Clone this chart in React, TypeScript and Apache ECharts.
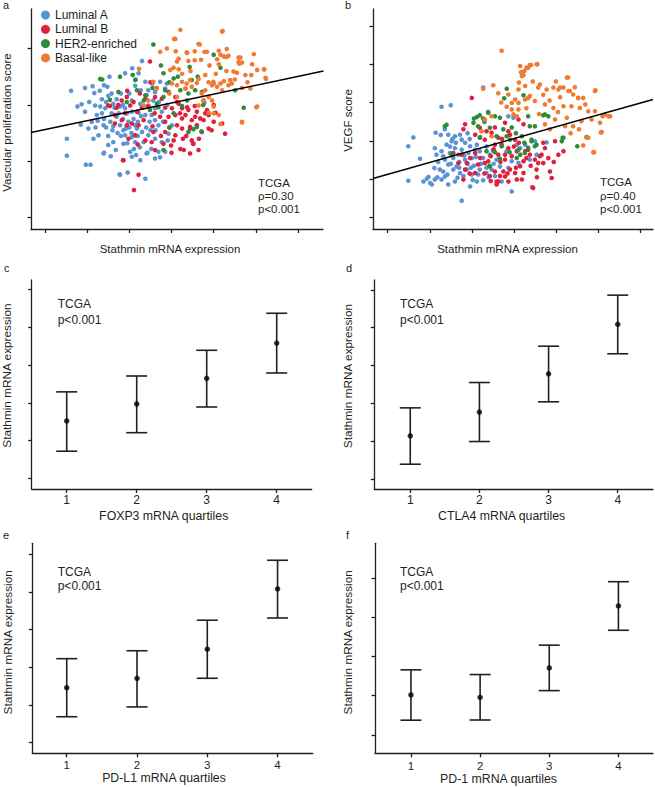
import React, { useEffect, useRef } from 'react';
import * as echarts from 'echarts';

const INK = '#231f20';
const FONT = 'Liberation Sans, Arial, sans-serif';

const GROUPS = ['Luminal A', 'Luminal B', 'HER2-enriched', 'Basal-like'];
const GROUP_COLORS = ['#5b93d3', '#e0203c', '#2e8b3a', '#f07a30'];

// ---- Panel a: Stathmin vs Vascular proliferation score ----
const aLumA = [[1.62,3.25],[1.77,2.97],[1.52,2.40],[1.52,2.10],[1.97,1.94],[2.08,1.94],[2.40,2.15],[2.78,1.76],[2.96,1.80],[3.38,1.69],[3.11,2.22],[3.02,2.17],[2.86,2.31],[2.50,2.29],[2.62,2.34],[2.03,2.58],[2.11,2.70],[2.23,2.82],[2.31,2.97],[2.13,3.33],[2.17,3.21],[2.35,3.10],[2.50,3.16],[2.48,3.32],[2.53,3.50],[2.90,3.56],[3.07,3.65],[3.30,3.78],[3.22,3.56],[3.38,3.41],[3.14,3.34],[3.27,3.26],[3.45,3.26],[3.61,3.23],[3.73,3.41],[3.85,3.29],[2.62,3.02],[2.78,2.97],[2.90,2.94],[3.06,2.88],[3.22,2.86],[3.38,2.82],[3.53,2.82],[3.61,2.73],[2.98,2.70],[3.14,2.64],[3.30,2.52],[3.45,2.46],[3.61,2.40],[3.69,2.64],[2.43,2.94],[2.58,2.85],[2.70,2.79],[2.78,2.64],[2.86,2.55],[2.27,2.46],[2.39,2.64],[1.95,2.88],[1.87,3.01],[2.19,2.99],[3.06,3.08],[3.26,3.02],[3.45,2.99],[3.61,2.94],[3.77,2.88],[3.41,3.17],[3.57,3.08],[3.06,2.43],[2.90,2.46],[3.14,2.34],[3.34,2.34],[3.06,2.08],[3.61,2.05],[3.77,2.34],[3.69,2.17],[3.41,2.14],[3.26,2.02],[3.85,2.17],[3.89,3.38],[3.93,2.49],[3.91,2.37],[4.01,2.64],[4.78,3.04],[2.40,2.75],[2.55,2.70],[2.65,2.95],[2.75,2.85],[2.85,2.75],[2.95,2.85],[3.00,2.60],[3.10,2.75],[3.20,2.70],[2.45,3.05],[2.70,3.10],[2.85,3.00],[3.30,2.95],[3.00,3.20],[2.60,2.55],[2.50,2.45],[2.80,2.45],[3.20,2.45],[3.40,2.60],[3.50,2.55],[2.35,2.85],[2.20,2.60],[2.05,3.05],[1.95,3.30],[2.30,3.25],[3.55,3.38],[3.70,3.05],[3.80,2.70],[3.90,3.00],[2.77,1.77],[2.39,2.14],[2.56,2.09],[3.16,2.11],[3.43,2.15],[3.73,2.07],[2.45,2.60],[2.62,2.62],[2.72,2.50],[2.92,2.58],[3.05,2.50],[3.18,2.58],[3.28,2.80],[3.48,2.70],[3.62,2.55],[2.80,3.20],[2.58,3.20],[2.40,3.35],[3.15,3.45],[2.25,2.72],[2.15,2.40],[3.52,2.22],[2.95,2.32],[3.25,2.25],[2.68,2.20],[1.85,2.65]];
const aLumB = [[3.49,3.77],[2.50,2.99],[2.82,3.08],[2.94,3.14],[3.02,2.99],[3.18,2.88],[3.38,3.11],[3.45,2.97],[3.61,3.14],[3.77,3.11],[3.06,2.67],[3.22,2.64],[3.34,2.73],[2.66,2.67],[2.82,2.73],[2.94,2.64],[3.14,2.46],[3.38,2.37],[3.53,2.34],[2.98,2.40],[2.86,2.02],[3.22,1.76],[3.11,1.49],[3.61,2.20],[3.81,2.31],[2.66,2.82],[2.54,2.98],[3.85,2.52],[3.57,2.52],[3.73,2.79],[3.85,2.70],[3.93,3.23],[4.09,3.14],[4.17,3.02],[4.01,2.94],[4.25,2.94],[4.40,2.91],[4.60,2.88],[4.33,2.82],[4.09,2.82],[4.48,2.73],[4.68,2.76],[4.80,2.85],[4.88,2.82],[5.00,2.70],[5.04,2.86],[4.60,2.64],[4.44,2.58],[4.25,2.58],[4.72,2.52],[4.88,2.58],[5.20,2.67],[5.27,2.49],[4.52,2.31],[4.48,2.37],[4.21,2.22],[4.29,2.20],[4.44,2.14],[4.64,2.20],[4.09,2.46],[4.13,2.64],[4.51,2.31],[4.27,2.40],[4.05,2.37],[3.99,2.28],[2.85,2.02],[4.84,2.91],[5.00,3.00],[4.76,3.08],[4.56,2.79],[4.37,2.96],[4.13,3.05],[3.93,2.79],[4.76,2.73],[4.44,2.61],[4.25,2.76],[2.74,3.00],[2.95,3.25],[3.10,3.05],[2.70,2.95],[3.25,3.20],[3.50,3.40],[3.65,3.30],[3.30,2.95],[3.55,2.62],[3.75,2.45],[3.95,2.60],[4.20,2.85],[4.55,2.98],[4.35,2.45],[4.65,2.40],[3.85,2.95],[3.60,2.85],[2.90,2.85],[3.20,2.30],[4.00,2.15],[4.95,2.55]];
const aHER2 = [[3.57,4.07],[5.00,3.89],[5.16,3.66],[4.43,3.67],[2.31,3.46],[2.36,3.45],[3.14,3.44],[3.08,3.53],[5.71,2.95],[5.51,3.26],[3.81,2.20],[4.71,2.53],[4.52,2.57],[2.54,3.09],[3.18,3.26],[3.38,3.17],[3.81,3.56],[4.05,3.47],[4.48,3.44],[4.56,3.26],[4.25,2.98],[4.05,2.85],[3.81,3.14],[3.85,3.26],[3.65,3.02],[3.49,2.91],[4.37,3.08],[4.72,3.23],[4.21,3.26],[4.60,2.61],[4.40,2.52],[3.69,2.96],[3.34,3.08],[2.94,3.05],[2.74,3.23],[2.78,3.50],[4.62,3.50],[3.95,2.60],[3.95,3.40],[4.15,3.50],[4.40,3.20],[3.55,3.30],[3.75,3.70],[4.75,3.00]];
const aBasal = [[4.21,4.33],[5.21,4.31],[4.09,4.17],[4.64,4.08],[4.36,3.93],[4.78,3.94],[3.89,4.00],[5.31,3.99],[5.16,3.89],[5.30,3.85],[5.35,3.87],[5.08,3.81],[5.63,3.84],[5.67,3.75],[5.59,3.76],[5.12,3.72],[4.17,3.82],[4.13,3.77],[4.40,3.78],[4.55,3.79],[4.05,3.66],[3.97,3.62],[4.17,3.63],[5.47,3.59],[5.55,3.57],[5.75,3.53],[5.89,3.53],[6.03,3.62],[6.20,3.63],[5.91,3.72],[6.23,3.48],[4.80,3.53],[4.64,3.46],[4.60,3.39],[4.88,3.40],[4.96,3.35],[5.08,3.32],[5.16,3.38],[5.35,3.35],[5.43,3.38],[4.99,3.41],[5.24,3.42],[5.67,3.30],[5.87,3.29],[5.67,2.70],[6.03,2.97],[4.25,3.41],[4.36,3.38],[4.44,3.44],[4.33,3.29],[4.48,3.32],[4.01,3.38],[4.13,3.35],[4.72,3.20],[4.76,3.08],[4.88,3.14],[4.96,3.08],[4.80,3.26],[5.00,2.97],[4.88,2.86],[4.64,2.99],[5.20,4.30],[4.06,4.17],[4.67,4.07],[3.73,3.94],[3.23,3.64],[5.12,2.82],[5.16,2.66],[5.67,2.69],[6.01,2.96],[6.24,3.46],[6.19,3.63],[5.61,3.73],[5.59,3.84],[5.24,3.86],[5.12,3.96],[4.84,3.94],[4.37,3.92],[3.34,2.99],[3.45,3.08],[3.57,3.41],[3.65,3.29],[4.13,3.14],[4.33,3.29],[5.00,3.38],[5.39,3.44],[5.20,3.26],[5.00,2.85],[4.45,3.60],[4.55,3.95],[4.90,3.70],[5.30,3.60],[5.50,3.45],[5.05,3.55],[4.25,3.55],[4.70,3.80],[5.80,3.40],[4.10,3.95],[5.95,3.90],[3.95,3.20]];
const aFit = [[0.67,2.51],[7.6,3.60]];

// ---- Panel b: Stathmin vs VEGF score ----
const bLumA = [[1.49,2.86],[1.61,3.09],[1.49,1.96],[1.77,2.53],[1.93,2.01],[1.97,2.06],[2.01,1.90],[2.12,1.99],[2.11,2.29],[2.12,2.81],[2.16,2.64],[2.28,3.89],[2.50,3.93],[2.14,3.21],[2.26,3.15],[2.36,3.30],[2.44,3.16],[2.52,2.99],[2.60,3.12],[2.72,3.16],[2.76,3.03],[2.84,2.95],[2.40,2.90],[2.28,2.73],[2.36,2.51],[2.48,2.68],[2.60,2.81],[2.56,2.55],[2.68,2.64],[2.76,2.77],[2.84,2.51],[2.92,2.68],[3.00,2.55],[3.08,2.77],[3.12,2.90],[3.19,2.73],[3.27,2.55],[2.96,2.86],[2.24,2.25],[2.32,2.20],[2.44,2.38],[2.56,2.25],[2.64,2.33],[2.72,2.16],[2.80,2.08],[2.88,2.25],[3.00,2.12],[3.12,1.94],[2.96,1.81],[2.76,1.44],[3.27,1.97],[3.35,2.16],[3.47,2.25],[3.55,2.08],[3.67,2.33],[3.59,2.51],[3.43,2.64],[3.27,4.39],[2.36,2.07],[2.28,1.99],[1.85,1.94],[2.05,1.86],[2.44,1.86],[2.60,1.94],[3.19,2.25],[3.71,1.94],[3.83,2.73],[3.95,1.68],[3.87,3.64],[3.99,3.60],[4.07,2.90],[4.15,2.81],[4.27,2.90],[4.38,2.51],[4.54,2.64],[4.78,2.96],[4.50,2.99],[3.95,2.47],[3.87,2.29],[4.11,2.42],[2.90,2.40],[3.05,2.35],[2.70,2.45],[2.50,2.40],[3.35,2.85],[3.50,2.75],[2.95,3.05],[2.20,2.45],[2.32,2.60],[2.48,2.85],[2.62,2.95],[2.70,2.30],[2.82,2.62],[2.98,2.30],[3.10,2.58],[3.22,2.40],[3.35,2.30],[3.40,2.05],[3.52,2.40],[2.18,2.05],[2.42,2.12],[2.66,2.04],[3.02,1.98],[3.15,2.12],[2.54,3.05],[2.90,3.20],[3.20,3.10]];
const bLumB = [[3.00,4.12],[2.84,3.43],[2.80,3.30],[3.08,3.16],[3.19,3.34],[3.35,3.25],[3.47,3.21],[3.31,3.03],[3.55,2.90],[3.63,3.08],[3.71,2.90],[3.79,2.64],[3.87,3.25],[2.76,2.64],[2.88,2.42],[2.96,2.55],[3.08,2.68],[2.56,2.68],[2.68,2.42],[2.84,2.25],[3.15,2.38],[3.31,2.42],[3.39,2.47],[3.43,2.08],[3.55,2.20],[3.59,1.94],[3.59,1.86],[3.67,2.08],[3.75,2.20],[3.08,2.16],[2.80,1.99],[3.79,2.51],[3.63,2.64],[3.79,3.47],[4.11,3.56],[4.23,3.43],[3.91,3.16],[4.03,3.03],[3.87,2.81],[4.07,2.73],[4.27,2.73],[4.34,2.77],[4.38,2.64],[4.50,2.51],[4.58,2.42],[4.70,2.42],[4.82,2.55],[4.98,2.99],[5.06,2.64],[5.18,2.73],[4.74,2.81],[4.66,2.64],[4.23,2.47],[4.15,2.34],[3.91,2.25],[4.03,2.16],[4.23,2.16],[4.19,1.99],[4.46,1.77],[4.54,2.25],[4.86,2.20],[4.90,2.03],[3.79,2.07],[3.87,1.94],[4.44,1.79],[3.63,1.94],[4.07,1.99],[3.20,2.55],[3.45,2.60],[3.52,2.78],[3.68,2.45],[3.72,3.05],[3.95,2.60],[4.00,2.85],[4.12,2.95],[4.30,2.55],[4.40,2.35],[4.55,2.05],[4.62,2.60],[3.30,2.15],[3.45,1.95],[3.85,2.15],[4.05,2.30],[3.55,3.35],[2.95,2.15],[4.70,2.95],[4.95,2.45]];
const bHER2 = [[2.36,3.38],[2.40,3.42],[3.12,3.62],[3.04,3.47],[3.27,3.58],[3.39,3.73],[3.19,3.08],[3.55,3.64],[3.67,3.60],[3.15,3.38],[3.43,3.34],[3.59,3.12],[2.52,2.64],[3.43,2.33],[3.35,2.73],[3.83,4.36],[4.23,4.19],[3.77,4.11],[3.39,3.75],[3.19,3.67],[3.05,3.58],[4.70,3.67],[5.73,3.10],[5.51,2.86],[5.16,3.08],[5.14,2.99],[3.83,3.12],[3.91,3.03],[4.19,3.12],[4.42,3.03],[4.50,2.86],[4.34,2.82],[4.26,2.68],[4.11,2.77],[3.71,2.86],[3.55,2.70],[3.42,2.35],[3.67,2.53],[4.74,3.69],[4.82,3.64],[4.34,3.64],[4.38,3.38],[4.50,3.38],[5.18,3.08],[4.07,2.55],[4.15,2.64],[4.42,2.99],[4.54,2.90],[3.30,3.50],[3.75,3.30],[3.95,3.35],[4.05,3.20],[3.90,2.70],[4.25,2.95]];
const bBasal = [[4.15,4.95],[4.34,4.91],[4.41,4.98],[4.56,5.00],[4.17,4.79],[4.23,4.71],[4.12,4.52],[4.27,4.43],[4.11,4.34],[4.03,4.08],[4.11,3.99],[4.27,4.08],[4.38,4.17],[4.50,4.04],[4.62,4.47],[4.78,4.34],[4.94,4.39],[5.06,4.34],[5.18,4.39],[5.26,4.65],[5.30,4.30],[5.10,4.14],[5.41,4.21],[5.53,4.12],[5.65,4.12],[5.93,4.30],[4.74,3.95],[4.94,3.86],[5.18,3.90],[5.37,3.90],[5.57,3.86],[5.77,3.77],[5.93,3.77],[6.17,3.69],[6.25,3.64],[6.05,3.47],[5.85,3.56],[5.61,3.51],[5.26,3.60],[4.98,3.56],[4.74,3.43],[4.86,3.30],[5.22,3.38],[5.41,3.38],[5.73,3.09],[5.89,2.70],[6.09,3.23],[3.95,3.82],[3.87,4.21],[4.07,3.64],[3.71,5.35],[4.38,4.98],[4.30,4.91],[4.25,4.82],[4.54,5.00],[4.19,4.69],[4.58,4.39],[5.29,4.65],[5.10,4.39],[5.33,4.30],[5.53,4.12],[5.94,4.32],[6.11,3.64],[6.29,3.64],[6.07,3.22],[5.91,2.70],[5.65,2.88],[5.77,3.08],[3.51,4.45],[3.63,4.24],[3.27,4.36],[3.99,3.69],[4.11,3.82],[3.95,3.99],[4.34,4.12],[3.83,3.89],[3.47,3.64],[3.31,3.56],[3.47,3.12],[3.23,3.25],[4.45,4.55],[4.70,4.20],[4.85,4.05],[5.00,4.55],[5.45,4.40],[5.70,3.95],[5.05,3.75],[4.60,3.70],[4.30,3.85],[3.70,4.00],[5.35,3.20],[5.55,3.30]];
const bFit = [[0.65,2.02],[7.31,4.08]];

// ---- Panels c-f: Stathmin by immune-gene quartile (mean with error bars) ----
const QUARTILES = [1, 2, 3, 4];
const cMean = [2.52, 2.97, 3.65, 4.58];
const cLow = [1.72, 2.21, 2.89, 3.79];
const cHigh = [3.29, 3.71, 4.39, 5.37];
const dMean = [2.14, 2.77, 3.78, 5.09];
const dLow = [1.39, 1.99, 3.04, 4.31];
const dHigh = [2.88, 3.55, 4.51, 5.86];
const eMean = [2.46, 2.71, 3.48, 5.08];
const eLow = [1.69, 1.95, 2.71, 4.31];
const eHigh = [3.23, 3.44, 4.25, 5.84];
const fMean = [2.02, 1.96, 2.71, 4.29];
const fLow = [1.375, 1.38, 2.13, 3.67];
const fHigh = [2.66, 2.54, 3.29, 4.91];

const SCATTER_X_TICKS = [1, 2, 3, 4, 5, 6, 7];

const lineStyle = { color: INK, width: 1.3 };
const nameStyle = (pad: number[], size: number) => ({ fontSize: size, color: INK, fontFamily: FONT, padding: pad });

function xAxis(gi: number, min: number, max: number, ticks: number[], showLabels: boolean, name: string, nameGap: number, pad: number[], margin: number, nameSize: number, labelSize: number) {
  return {
    type: 'value', gridIndex: gi, min, max,
    axisLine: { show: true, onZero: false, lineStyle },
    axisTick: { show: true, length: 4, customValues: ticks, lineStyle },
    axisLabel: { show: showLabels, customValues: ticks, margin, fontSize: labelSize, color: INK, fontFamily: FONT },
    splitLine: { show: false },
    name, nameLocation: 'middle', nameGap, nameTextStyle: nameStyle(pad, nameSize), nameMoveOverlap: false,
  };
}
function yAxis(gi: number, min: number, max: number, ticks: number[], name: string, nameGap: number, pad: number[], nameSize: number) {
  return {
    type: 'value', gridIndex: gi, min, max,
    axisLine: { show: true, onZero: false, lineStyle },
    axisTick: { show: true, length: 3.5, customValues: ticks, lineStyle },
    axisLabel: { show: false },
    splitLine: { show: false },
    name, nameLocation: 'middle', nameGap, nameRotate: 90, nameTextStyle: nameStyle(pad, nameSize), nameMoveOverlap: false,
  };
}

const errorBarRender = (params: any, api: any) => {
  const x = api.value(0);
  const lo = api.coord([x, api.value(1)]);
  const hi = api.coord([x, api.value(2)]);
  const hw = 10.5;
  const style = { stroke: INK, lineWidth: 1.6 };
  return {
    type: 'group',
    children: [
      { type: 'line', shape: { x1: lo[0], y1: lo[1], x2: hi[0], y2: hi[1] }, style },
      { type: 'line', shape: { x1: lo[0] - hw, y1: lo[1], x2: lo[0] + hw, y2: lo[1] }, style },
      { type: 'line', shape: { x1: hi[0] - hw, y1: hi[1], x2: hi[0] + hw, y2: hi[1] }, style },
    ],
  };
};

function errorSeries(idx: number, mean: number[], low: number[], high: number[]) {
  return [
    {
      type: 'custom', xAxisIndex: idx, yAxisIndex: idx,
      data: QUARTILES.map((q, i) => [q, low[i], high[i]]),
      encode: { x: 0, y: [1, 2] },
      renderItem: errorBarRender, silent: true,
    },
    {
      type: 'scatter', xAxisIndex: idx, yAxisIndex: idx,
      data: QUARTILES.map((q, i) => [q, mean[i]]),
      symbolSize: 5.5, itemStyle: { color: '#000' }, z: 5,
    },
  ];
}

function scatterSeries(idx: number, groups: number[][][]) {
  return groups.map((pts, g) => ({
    type: 'scatter', name: GROUPS[g], xAxisIndex: idx, yAxisIndex: idx,
    data: pts, symbolSize: 4.6, itemStyle: { color: GROUP_COLORS[g], opacity: 1 },
  }));
}

function fitSeries(idx: number, pts: number[][]) {
  return {
    type: 'line', xAxisIndex: idx, yAxisIndex: idx, data: pts, showSymbol: false, symbol: 'none',
    lineStyle: { color: '#000', width: 1.5 }, z: 10, silent: true,
  };
}

function txt(x: number, y: number, text: string, size = 12) {
  return { type: 'text', x, y, style: { text, fontSize: size, fontFamily: FONT, fill: INK, align: 'left', verticalAlign: 'middle' } };
}

export default function App() {
  const ref = useRef<HTMLDivElement>(null);
  useEffect(() => {
    if (!ref.current) return;
    const chart = echarts.init(ref.current, undefined, { renderer: 'svg' });
    const g = (left: number, top: number, width: number, height: number) => ({ left, top, width, height, outerBoundsMode: 'none', containLabel: false });
    chart.setOption({
      animation: false,
      backgroundColor: '#fff',
      textStyle: { fontFamily: FONT },
      grid: [
        g(31, 9, 292, 220),
        g(373, 9, 280, 220),
        g(31.7, 280, 280, 209),
        g(374.3, 280, 278.7, 209),
        g(32.3, 543.3, 280.4, 210),
        g(375, 543.3, 278, 210),
      ],
      xAxis: [
        xAxis(0, 0.67, 7.59, SCATTER_X_TICKS, false, 'Stathmin mRNA expression', 14, [0, 14, 0, 0], 5, 11.5, 12),
        xAxis(1, 0.65, 7.31, SCATTER_X_TICKS, false, 'Stathmin mRNA expression', 14, [0, 11, 0, 0], 5, 11.5, 12),
        xAxis(2, 0.5, 4.5, QUARTILES, true, 'FOXP3 mRNA quartiles', 21, [0, 16, 0, 0], 5, 12.3, 12),
        xAxis(3, 0.48, 4.51, QUARTILES, true, 'CTLA4 mRNA quartiles', 21, [0, 24, 0, 0], 5, 12.3, 12),
        xAxis(4, 0.51, 4.5, QUARTILES, true, 'PD-L1 mRNA quartiles', 19, [0, 17, 0, 0], 6, 12.3, 11.5),
        xAxis(5, 0.48, 4.5, QUARTILES, true, 'PD-1 mRNA quartiles', 19.5, [0, 31, 0, 0], 6.5, 12.3, 11.5),
      ],
      yAxis: [
        yAxis(0, 0.8, 4.7, [1, 2, 3, 4], 'Vascular proliferation score', 18, [0, 7, 0, 0], 11.5),
        yAxis(1, 0.7, 6.44, [1, 2, 3, 4, 5, 6], 'VEGF score', 19, [0, 3, 0, 0], 11.5),
        yAxis(2, 0.72, 6.25, [1, 2, 3, 4, 5, 6], 'Stathmin mRNA expression', 18.5, [0, 0, 0, 18], 11.8),
        yAxis(3, 0.735, 6.26, [1, 2, 3, 4, 5, 6], 'Stathmin mRNA expression', 20, [0, 0, 0, 17], 11.8),
        yAxis(4, 0.72, 6.29, [1, 2, 3, 4, 5, 6], 'Stathmin mRNA expression', 18.5, [0, 0, 0, 12], 11.8),
        yAxis(5, 0.53, 5.89, [1, 2, 3, 4, 5], 'Stathmin mRNA expression', 21, [0, 0, 0, 12], 11.8),
      ],
      legend: {
        data: GROUPS, orient: 'vertical', left: 41, top: 8, padding: 0,
        icon: 'circle', itemWidth: 9, itemHeight: 9, itemGap: 0.3,
        textStyle: { fontSize: 12, color: INK, fontFamily: FONT, lineHeight: 14 },
        selectedMode: false,
      },
      series: [
        ...scatterSeries(0, [aLumA, aLumB, aHER2, aBasal]),
        fitSeries(0, aFit),
        ...scatterSeries(1, [bLumA, bLumB, bHER2, bBasal]),
        fitSeries(1, bFit),
        ...errorSeries(2, cMean, cLow, cHigh),
        ...errorSeries(3, dMean, dLow, dHigh),
        ...errorSeries(4, eMean, eLow, eHigh),
        ...errorSeries(5, fMean, fLow, fHigh),
      ],
      graphic: [
        txt(3, 5, 'a', 11), txt(345, 5, 'b', 11),
        txt(4, 268, 'c', 11), txt(346, 268, 'd', 11),
        txt(3, 535, 'e', 11), txt(346, 535, 'f', 11),
        txt(258, 183, 'TCGA', 11.5), txt(258, 196, 'ρ=0.30', 11.5), txt(258, 209, 'p<0.001', 11.5),
        txt(600, 182, 'TCGA', 11.5), txt(600, 195.5, 'ρ=0.40', 11.5), txt(600, 209, 'p<0.001', 11.5),
        txt(57.7, 304, 'TCGA'), txt(57.7, 319.5, 'p<0.001'),
        txt(400, 304, 'TCGA'), txt(400, 319.5, 'p<0.001'),
        txt(57.7, 572.3, 'TCGA'), txt(57.7, 586, 'p<0.001'),
        txt(400, 572.3, 'TCGA'), txt(400, 586, 'p<0.001'),
      ],
    });
    return () => chart.dispose();
  }, []);
  return <div ref={ref} style={{ position: 'absolute', left: 0, top: 0, width: 655, height: 787, background: '#fff' }} />;
}
